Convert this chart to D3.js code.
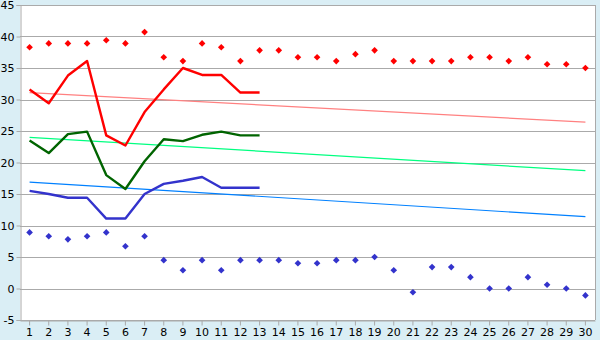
<!DOCTYPE html>
<html>
<head>
<meta charset="utf-8">
<script src="https://cdn.jsdelivr.net/npm/d3@7"></script>
<style>
  body { margin: 0; background: #daeef5; }
  svg { display: block; }
  text { font-family: "DejaVu Sans", Verdana, sans-serif; font-size: 11px; fill: #000; }
</style>
</head>
<body>
<script>
var days = d3.range(1, 31);
var yTicks = [-5, 0, 5, 10, 15, 20, 25, 30, 35, 40, 45];

var maxPoints = [38.3, 38.9, 38.9, 38.9, 39.4, 38.9, 40.7, 36.7, 36.1, 38.9,
                 38.3, 36.1, 37.8, 37.8, 36.7, 36.7, 36.1, 37.2, 37.8, 36.1,
                 36.1, 36.1, 36.1, 36.7, 36.7, 36.1, 36.7, 35.6, 35.6, 35.0];
var minPoints = [8.9, 8.3, 7.8, 8.3, 8.9, 6.7, 8.3, 4.5, 2.9, 4.5,
                 2.9, 4.5, 4.5, 4.5, 4.0, 4.0, 4.5, 4.5, 5.0, 2.9,
                 -0.6, 3.4, 3.4, 1.8, 0.0, 0.0, 1.8, 0.6, 0.0, -1.1];
var redLine = [31.6, 29.4, 33.8, 36.1, 24.3, 22.7, 28.0, 31.6, 35.0, 33.9, 33.9, 31.1, 31.1];
var greenLine = [23.5, 21.5, 24.5, 24.9, 18.0, 15.8, 20.2, 23.7, 23.4, 24.4, 24.9, 24.3, 24.3];
var blueLine = [15.5, 15.0, 14.4, 14.4, 11.1, 11.1, 15.0, 16.6, 17.1, 17.7, 16.0, 16.0, 16.0];
// trend lines: value at day 1 and day 30
var redTrend = [31.1, 26.4];
var greenTrend = [24.0, 18.7];
var blueTrend = [16.9, 11.4];

var w = 600, h = 340;
var mLeft = 20, mRight = 595, mTop = 5, mBottom = 320;

var svg = d3.select("body").append("svg").attr("width", w).attr("height", h);

var x = d3.scaleBand().domain(days).range([mLeft, mRight]);
var y = d3.scaleLinear().domain([-5, 45]).range([mBottom, mTop]);
var cx = function(d) { return x(d) + x.bandwidth() / 2; };

svg.append("rect")
   .attr("x", mLeft).attr("y", mTop)
   .attr("width", mRight - mLeft).attr("height", mBottom - mTop)
   .attr("fill", "#fff");

svg.append("g").selectAll("line")
   .data(yTicks)
   .enter().append("line")
   .attr("x1", mLeft).attr("x2", mRight)
   .attr("y1", function(d) { return Math.round(y(d)) + 0.5; })
   .attr("y2", function(d) { return Math.round(y(d)) + 0.5; })
   .attr("stroke", "#aaa");

svg.append("line")
   .attr("x1", mRight + 0.5).attr("x2", mRight + 0.5)
   .attr("y1", mTop).attr("y2", mBottom)
   .attr("stroke", "#aaa");

var yAxis = d3.axisLeft(y).tickValues(yTicks).tickSize(4).tickPadding(2)
              .tickFormat(function(d) { return String(d); });
var gy = svg.append("g").attr("transform", "translate(" + (mLeft + 0.5) + ",0)").call(yAxis);
gy.selectAll("path, line").attr("stroke", "#aaa");
gy.selectAll("text").style("font-size", "11px");

var xAxis = d3.axisBottom(x).tickSize(5).tickPadding(3).tickSizeOuter(0);
var gx = svg.append("g").attr("transform", "translate(0," + (mBottom + 0.5) + ")").call(xAxis);
gx.selectAll("path, line").attr("stroke", "#aaa");
gx.selectAll("text").style("font-size", "11px");

function trend(vals, color) {
  svg.append("line")
     .attr("x1", cx(1)).attr("y1", y(vals[0]))
     .attr("x2", cx(30)).attr("y2", y(vals[1]))
     .attr("stroke", color).attr("stroke-width", 1.2);
}
trend(redTrend, "#ff8080");
trend(greenTrend, "#00ff80");
trend(blueTrend, "#0080ff");

var line = d3.line().x(function(d, i) { return cx(i + 1); }).y(function(d) { return y(d); });
function series(vals, color) {
  svg.append("path").datum(vals)
     .attr("d", line)
     .attr("fill", "none")
     .attr("stroke", color)
     .attr("stroke-width", 2.4)
     .attr("stroke-linejoin", "round");
}
series(redLine, "#ff0000");
series(greenLine, "#006400");
series(blueLine, "#3333cc");

var marker = d3.symbol().type(d3.symbolSquare).size(22);
function points(vals, color) {
  svg.append("g").selectAll("path")
     .data(vals)
     .enter().append("path")
     .attr("d", marker)
     .attr("transform", function(d, i) { return "translate(" + cx(i + 1) + "," + y(d) + ") rotate(45)"; })
     .attr("fill", color);
}
points(maxPoints, "#ff0000");
points(minPoints, "#3333cc");
</script>
</body>
</html>
